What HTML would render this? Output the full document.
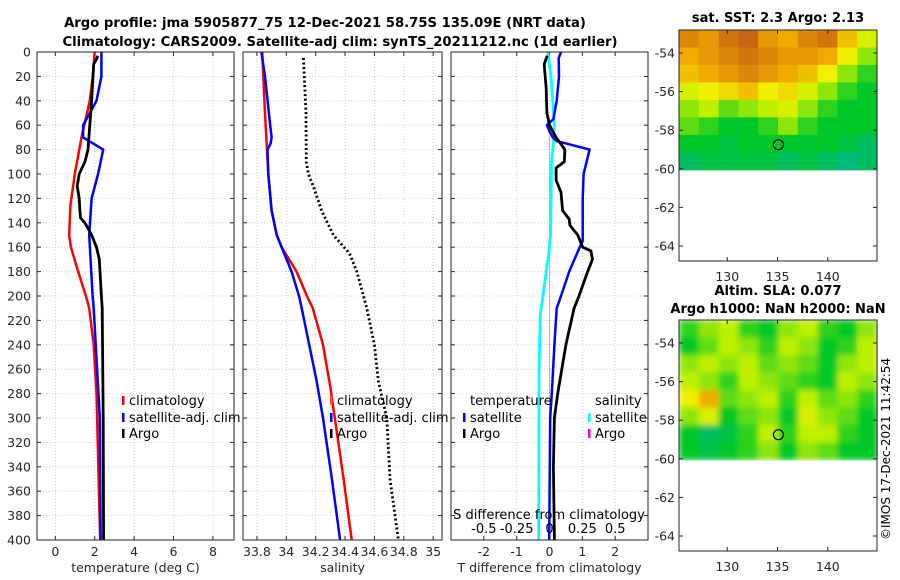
<!DOCTYPE html>
<html><head><meta charset="utf-8"><style>
body{margin:0;background:#fff}
svg{display:block;font-family:"DejaVu Sans","Liberation Sans",sans-serif}
</style></head><body>
<svg id="c" width="900" height="580" viewBox="0 0 900 580" xmlns="http://www.w3.org/2000/svg">
<text x="325" y="27" font-size="13.2" font-weight="bold" text-anchor="middle">Argo profile: jma 5905877_75 12-Dec-2021 58.75S 135.09E (NRT data)</text>
<text x="340" y="46" font-size="13.2" font-weight="bold" text-anchor="middle">Climatology: CARS2009. Satellite-adj clim: synTS_20211212.nc (1d earlier)</text>
<text x="778" y="22" font-size="13" font-weight="bold" text-anchor="middle">sat. SST: 2.3 Argo: 2.13</text>
<text x="778" y="295" font-size="13" font-weight="bold" text-anchor="middle">Altim. SLA: 0.077</text>
<text x="778" y="313" font-size="13" font-weight="bold" text-anchor="middle">Argo h1000: NaN h2000: NaN</text>
<text transform="translate(890,540) rotate(-90)" font-size="12">©IMOS 17-Dec-2021 11:42:54</text>
</svg>
<script>
// ---- data ----
const depthTicks=[0,20,40,60,80,100,120,140,160,180,200,220,240,260,280,300,320,340,360,380,400];
const tempTicks=[0,2,4,6,8];
const salTicks=[33.8,34,34.2,34.4,34.6,34.8,35];
const salTickLabels=["33.8","34","34.2","34.4","34.6","34.8","35"];
const dtTicks=[-2,-1,0,1,2];
const dsTicks=[-0.5,-0.25,0,0.25,0.5];
const dsTickLabels=["-0.5","-0.25","0","0.25","0.5"];
const climTD=[0,20,40,70,100,125,150,160,180,200,210,240,280,400];
const climT=[2.0,1.9,1.75,1.33,0.99,0.77,0.7,0.79,1.16,1.55,1.72,1.95,2.09,2.28];
const satTD=[0,20,40,60,70,80,100,120,150,200,210,300,400];
const satT=[2.34,2.34,2.09,1.41,1.41,2.43,2.17,1.84,1.72,1.89,1.95,2.26,2.3];
const argoTD=[3,5,10,40,60,80,90,100,110,120,130,136,140,150,160,170,200,210,300,400];
const argoT=[2.14,2.12,1.95,1.84,1.75,1.66,1.5,1.21,1.11,1.21,1.25,1.28,1.5,1.84,2.09,2.23,2.34,2.38,2.43,2.45];
const climSD=[0,50,100,130,150,160,180,200,210,240,275,300,350,400];
const climS=[33.836,33.855,33.877,33.9,33.934,33.968,34.07,34.14,34.18,34.25,34.30,34.33,34.39,34.445];
const satSD=[0,20,60,70,75,80,100,130,150,160,180,200,210,270,300,350,400];
const satS=[33.83,33.855,33.89,33.9,33.893,33.872,33.877,33.9,33.935,33.968,34.036,34.086,34.105,34.207,34.25,34.31,34.366];
const argoSD=[5,50,90,100,110,130,150,165,180,210,240,270,300,350,400];
const argoS=[34.116,34.134,34.136,34.15,34.184,34.24,34.32,34.43,34.48,34.548,34.6,34.627,34.684,34.706,34.763];
const dTsatD=[0,5,20,40,55,60,65,70,73,80,100,120,155,160,180,200,210,240,280,300,400];
const dTsat=[0.35,0.28,0.29,0.22,0.12,-0.08,0,0.1,0.22,1.22,1.04,1.01,1.01,0.92,0.6,0.35,0.22,0.15,0.07,0.02,-0.01];
const dTargoD=[3,10,30,50,60,70,80,90,95,105,115,130,137,142,150,160,163,170,180,200,210,240,280,300,340,400];
const dTargo=[-0.07,-0.16,-0.1,-0.08,0,0.2,0.47,0.45,0.2,0.2,0.35,0.4,0.6,0.62,0.86,1.01,1.26,1.31,1.16,0.9,0.75,0.5,0.25,0.15,0.12,0.15];
const dSsatD=[0,20,40,60,75,90,120,150,165,180,200,215,260,400];
const dSsat=[-0.0125,0.011,0.025,0.0375,0.03,0.015,0.0125,0.0075,-0.005,-0.025,-0.05,-0.07,-0.08,-0.0825];
const latTicks=[-54,-56,-58,-60,-62,-64];
const lonTicks=[130,135,140];
const sstGrid=[
[.85,.8,.9,.95,.8,.75,.85,.9,.7,.55],
[.75,.8,.85,.9,.85,.8,.8,.75,.6,.45],
[.7,.75,.8,.85,.8,.75,.7,.6,.45,.35],
[.55,.6,.65,.7,.6,.65,.55,.45,.35,.3],
[.45,.5,.4,.45,.5,.55,.45,.35,.3,.3],
[.4,.35,.3,.3,.35,.45,.35,.3,.3,.3],
[.3,.3,.25,.3,.3,.3,.28,.3,.25,.2],
[.2,.25,.25,.25,.25,.2,.25,.2,.15,.2]];
const slaGrid=[
[.35,.45,.5,.35,.3,.45,.5,.35,.3,.45],
[.3,.4,.5,.45,.35,.5,.45,.3,.35,.5],
[.45,.5,.45,.5,.4,.45,.4,.3,.45,.5],
[.5,.45,.35,.5,.45,.4,.35,.3,.5,.45],
[.6,.75,.4,.45,.5,.35,.5,.4,.45,.35],
[.45,.55,.3,.4,.45,.3,.55,.45,.4,.3],
[.3,.2,.25,.35,.5,.35,.5,.5,.35,.3],
[.3,.25,.3,.35,.45,.3,.45,.4,.3,.3]];
const argoLon=135.09, argoLat=-58.75;

const NS="http://www.w3.org/2000/svg";
const svg=document.getElementById('c');
function el(tag,attrs,parent){const e=document.createElementNS(NS,tag);for(const k in attrs)e.setAttribute(k,attrs[k]);(parent||svg).appendChild(e);return e;}
function txt(x,y,s,attrs){const e=el('text',Object.assign({x:x,y:y,'font-size':12.5,fill:'#262626'},attrs||{}));e.textContent=s;return e;}
const Y0=52,Y1=540;
const yD=d=>Y0+d/400*(Y1-Y0);

function panel(name,x0,x1,xmin,xmax,ticks,labels,xlabel){
  const g=el('g',{});
  
  
  const xs=v=>x0+(v-xmin)/(xmax-xmin)*(x1-x0);
  depthTicks.forEach(d=>{
    const y=yD(d);
    if(d>0&&d<400){const l=el('line',{x1:x0,x2:x1,y1:y,y2:y,stroke:'#b8c4e6','stroke-width':0.8,'stroke-dasharray':'1,2'},g);
      }
    el('line',{x1:x0,x2:x0+4,y1:y,y2:y,stroke:'#262626'},g);
    el('line',{x1:x1-4,x2:x1,y1:y,y2:y,stroke:'#262626'},g);
  });
  ticks.forEach((t,i)=>{
    const x=xs(t);
    const l=el('line',{x1:x,x2:x,y1:Y0,y2:Y1,stroke:'#b8c4e6','stroke-width':0.8,'stroke-dasharray':'1,2'},g);
    
    el('line',{x1:x,x2:x,y1:Y1-4,y2:Y1,stroke:'#262626'},g);
    el('line',{x1:x,x2:x,y1:Y0,y2:Y0+4,stroke:'#262626'},g);
    const tl=txt(x,556,labels[i],{'text-anchor':'middle'},g);
    
  });
  const xl=txt((x0+x1)/2,572,xlabel,{'text-anchor':'middle'});
  
  return {g,xs};
}
function series(p,D,V,color,w,name,dash,scale){
  const pts=D.map((d,i)=>p.xs(V[i]*(scale||1)).toFixed(1)+','+yD(d).toFixed(1)).join(' ');
  const a={points:pts,fill:'none',stroke:color,'stroke-width':w,'stroke-linejoin':'round'};
  if(dash)a['stroke-dasharray']=dash;
  const e=el('polyline',a);
  
  
}
function frame(x0,x1,y0,y1,name){const r=el('rect',{x:x0,y:y0,width:x1-x0,height:y1-y0,fill:'none',stroke:'#262626','stroke-width':1});
  }
function legend(x,y,color,label){
  const m=el('rect',{x:x,y:y-9,width:2.5,height:9,fill:color});
  
  const t=txt(x+7,y,label,{fill:'#000','font-size':13});
  
}

// Panel 1
const p1=panel('temperature-panel',37,234,-0.93,9.07,tempTicks,tempTicks.map(String),'temperature (deg C)');
depthTicks.forEach(d=>{const t=txt(31,yD(d)+4.5,String(d),{'text-anchor':'end'});
  });
series(p1,climTD,climT,'#ff0000',2.5,'temp-climatology-line');
series(p1,satTD,satT,'#0000ff',2.5,'temp-satellite-line');
series(p1,argoTD,argoT,'#000',2.8,'temp-argo-line');
frame(37,234,Y0,Y1,'temperature-axes');
legend(122,405,'#ff0000','climatology');legend(122,422,'#0000ff','satellite-adj. clim');legend(122,438,'#000','Argo');

// Panel 2
const p2=panel('salinity-panel',243,442,33.705,35.06,salTicks,salTickLabels,'salinity');
series(p2,climSD,climS,'#ff0000',2.5,'sal-climatology-line');
series(p2,satSD,satS,'#0000ff',2.5,'sal-satellite-line');
series(p2,argoSD,argoS,'#000',2.8,'sal-argo-line','2,2.5');
frame(243,442,Y0,Y1,'salinity-axes');
legend(330,405,'#ff5030','climatology');legend(330,422,'#0000ff','satellite-adj. clim');legend(330,438,'#000','Argo');

// Panel 3
const p3=panel('difference-panel',451,648,-3,3,dtTicks,dtTicks.map(String),'T difference from climatology');
const z=el('line',{x1:p3.xs(0),x2:p3.xs(0),y1:yD(70),y2:yD(400),stroke:'#555','stroke-width':1,'stroke-dasharray':'1,2'});

series(p3,dSsatD,dSsat,'#00ffff',2.8,'sal-diff-satellite-line',null,4);
series(p3,dTsatD,dTsat,'#0000ff',2.5,'temp-diff-satellite-line');
series(p3,dTargoD,dTargo,'#000',2.8,'temp-diff-argo-line');
frame(451,648,Y0,Y1,'difference-axes');
const lt=txt(470,405,'temperature',{fill:'#000','font-size':13});
const ls=txt(595,405,'salinity',{fill:'#000','font-size':13});
legend(463,422,'#0000ff','satellite');legend(463,438,'#000','Argo');
legend(588,422,'#00ffff','satellite');legend(588,438,'#ff00cc','Argo');
const st=txt(549,519,'S difference from climatology',{'text-anchor':'middle',fill:'#000','font-size':13});

dsTicks.forEach((s,i)=>{const t=txt(p3.xs(s*4),533,dsTickLabels[i],{'text-anchor':'middle',fill:'#000','font-size':13});
  });

// Maps
function cmap(v){
  const stops=[[0.1,[0,180,150]],[0.3,[0,200,40]],[0.5,[190,240,0]],[0.6,[240,240,0]],[0.75,[240,170,0]],[0.95,[200,100,20]]];
  if(v<=stops[0][0])return 'rgb('+stops[0][1]+')';
  for(let i=1;i<stops.length;i++){if(v<=stops[i][0]){const a=stops[i-1],b=stops[i];const f=(v-a[0])/(b[0]-a[0]);
    return 'rgb('+a[1].map((c,k)=>Math.round(c+(b[1][k]-c)*f)).join(',')+')';}}
  return 'rgb('+stops[stops.length-1][1]+')';
}
function map(name,top,grid,blur){
  const x0=679,x1=877,lonMin=125.2,lonMax=144.9;
  const latY=l=>top+23+(-54-l)*19.3;
  const lonX=l=>x0+(l-lonMin)/(lonMax-lonMin)*(x1-x0);
  const yb=latY(-60.05), bottom=latY(-64)+15;
  const g=el('g',blur?{filter:'url(#bl)'}:{});
  
  const rows=grid.length,cols=grid[0].length,cw=(x1-x0)/cols,ch=(yb-top)/rows;
  grid.forEach((r,i)=>r.forEach((v,j)=>{
    const c=el('rect',{x:x0+j*cw,y:top+i*ch,width:cw+0.6,height:ch+0.6,fill:cmap(v)},g);
    
  }));
  const cc=el('circle',{cx:lonX(argoLon),cy:latY(argoLat),r:5,fill:'none',stroke:'#000','stroke-width':1.2});
  
  frame(x0,x1,top,bottom,name+'-axes');
  latTicks.forEach(l=>{const y=latY(l);el('line',{x1:x0,x2:x0+4,y1:y,y2:y,stroke:'#262626'});el('line',{x1:x1-4,x2:x1,y1:y,y2:y,stroke:'#262626'});
    const t=txt(675,y+4.5,String(l),{'text-anchor':'end'});});
  lonTicks.forEach(l=>{const x=lonX(l);el('line',{x1:x,x2:x,y1:bottom-4,y2:bottom,stroke:'#262626'});el('line',{x1:x,x2:x,y1:top,y2:top+4,stroke:'#262626'});
    const t=txt(x,bottom+20,String(l),{'text-anchor':'middle'});});
}
const defs=el('defs',{});const f=el('filter',{id:'bl',x:'0',y:'0',width:'1',height:'1'},defs);el('feGaussianBlur',{stdDeviation:3},f);
map('sst-map',30,sstGrid,false);
map('sla-map',320,slaGrid,true);
</script>
</body></html>
